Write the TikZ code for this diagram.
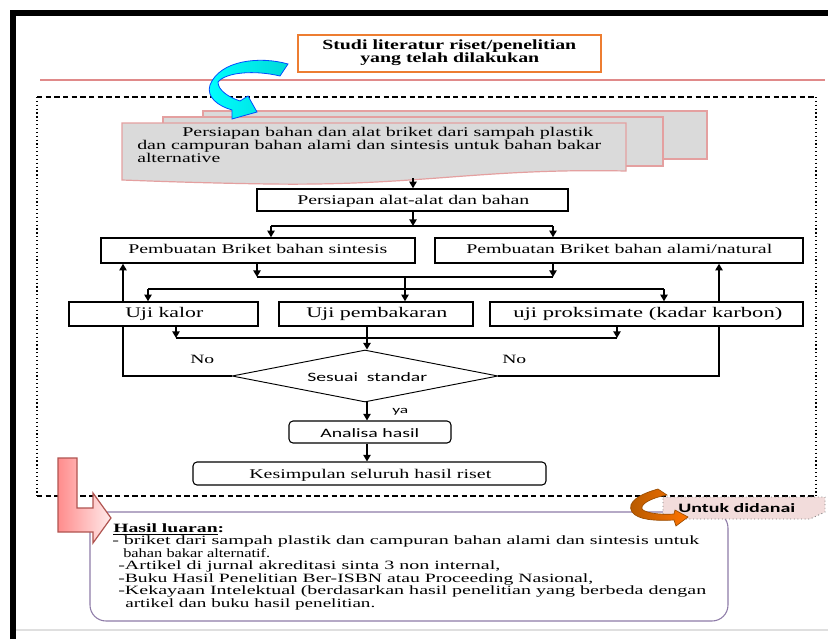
\documentclass[tikz,border=0pt]{standalone}
\usepackage{fontspec}
\setmainfont{Liberation Serif}
\newfontfamily\calfont{Carlito}
\usepackage{graphicx}
\usetikzlibrary{shapes.geometric,arrows.meta,fit}
\newlength\px \setlength\px{0.75pt}
\newcommand\tw[2]{\resizebox{#1\px}{\height}{#2}}
\definecolor{orgbox}{HTML}{ED7D31}
\definecolor{redline}{HTML}{E08A8A}
\definecolor{stkfill}{HTML}{DADADA}
\definecolor{stkdraw}{HTML}{E4A0A0}
\definecolor{hasilc}{HTML}{8E7CA8}
\definecolor{pinkfill}{HTML}{F2DCDB}
\definecolor{ldraw}{HTML}{B05450}
\begin{document}
\begin{tikzpicture}[x=0.75pt,y=-0.75pt,
  box/.style={draw=black, line width=1.1pt, inner sep=0, fill=white},
  conn/.style={draw=black, line width=1.1pt},
  arr/.style={conn, -{Triangle[width=5.5pt,length=5pt]}},
  t/.style={inner sep=0, anchor=base west},
  ser/.style={font=\fontsize{10}{11}\selectfont},
  serl/.style={font=\fontsize{11}{12}\selectfont},
  sers/.style={font=\fontsize{9.5}{10}\selectfont},
  cal/.style={font=\calfont\fontsize{9.6}{10}\selectfont},
  stk/.style={draw=stkdraw, line width=0.9pt, fill=stkfill}]
\useasboundingbox (0,0) rectangle (828,639);
\fill[white] (0,0) rectangle (828,639);
% outer frame
\draw[line width=3.8pt] (13,639) -- (13,13) -- (828,13);
\draw[gray!25, line width=0.8pt] (16,630) -- (828,630);
% red line
\draw[redline, line width=1.1pt] (40,80) -- (825,80);
% Studi box
\node[fit={(298,35) (601,72)}, draw=orgbox, line width=1.1pt, inner sep=0] (studi) {};
\node[t, font=\bfseries\fontsize{10.5}{11}\selectfont] (st1) at (322,49) {\tw{254}{Studi literatur riset/penelitian}};
\node[t, font=\bfseries\fontsize{10.5}{11}\selectfont] (st2) at (360,62.5) {\tw{179}{yang telah dilakukan}};
% dashed region
\draw[line width=0.8pt, dash pattern=on 4pt off 2.5pt] (37,97) -- (816,97);
\draw[line width=0.8pt, dash pattern=on 4pt off 2.5pt] (37,496) -- (816,496);
\draw[line width=0.9pt, dotted] (37,97) -- (37,496);
\draw[line width=0.9pt, dotted] (816,97) -- (816,496);
% stacked documents
\draw[stk] (203,111) rectangle (707,159);
\draw[stk] (163,117) rectangle (663,166);
\draw[stk] (122,123) -- (626,123) -- (626,171) .. controls (480,168) and (420,186) .. (270,184) .. controls (200,183) and (150,181) .. (122,180) -- cycle;
\coordinate (stackbot) at (413,178);
\node[t, ser] (p1) at (182,136.5) {\tw{411}{Persiapan bahan dan alat briket dari sampah plastik}};
\node[t, ser] (p2) at (137,149.5) {\tw{464}{dan campuran bahan alami dan sintesis untuk bahan bakar}};
\node[t, ser] (p3) at (137,162) {\tw{83}{alternative}};
% cyan arrow
\draw[draw=blue!70!cyan, line width=0.6pt, left color=cyan, right color=cyan!70!teal]
  (288,64) .. controls (260,56) and (220,60) .. (210,85) .. controls (206,97) and (218,106) .. (232,110)
  -- (232,119) -- (257,112) -- (248,96) -- (240,101)
  .. controls (228,97) and (218,90) .. (218,82) .. controls (226,72) and (255,70) .. (280,76) -- cycle;
% boxes
\node[box, fit={(257,189) (568,211)}] (prepalat) {};
\node[t, ser] (prepalatt) at (297,204) {\tw{232}{Persiapan alat-alat dan bahan}};
\node[box, fit={(101,238) (415,263)}] (sint) {};
\node[t, ser] (sintt) at (128,253) {\tw{259}{Pembuatan Briket bahan sintesis}};
\node[box, fit={(435,238) (803,263)}] (alami) {};
\node[t, ser] (alamit) at (466,253) {\tw{306}{Pembuatan Briket bahan alami/natural}};
% feedback corner points
\coordinate (fbl) at (123,376);
\coordinate (fbr) at (719,376);
\node[box, fit={(69,302) (258,326)}] (kalor) {};
\node[t, serl] (kalort) at (125,317.5) {\tw{78}{Uji kalor}};
\node[box, fit={(279,302) (473,326)}] (bakar) {};
\node[t, serl] (bakart) at (306,317.5) {\tw{141}{Uji pembakaran}};
\node[box, fit={(490,302) (803,326)}] (prok) {};
\node[t, serl] (prokt) at (513,317.5) {\tw{269}{uji proksimate (kadar karbon)}};
% diamond
\node[draw=black, line width=0.7pt, diamond, inner sep=0, minimum width=199.5pt, minimum height=39pt] (dec) at (365,376) {};
\node[t, cal] (dect) at (307,381) {\tw{120}{Sesuai\ \ standar}};
\node[t, font=\calfont\fontsize{8}{8}\selectfont] (ya) at (392,413) {\tw{16}{ya}};
\node[t, font=\fontsize{9.5}{9}\selectfont] (no1) at (190,363.5) {\tw{24}{No}};
\node[t, font=\fontsize{9.5}{9}\selectfont] (no2) at (502,363.5) {\tw{24}{No}};
% analisa / kesimpulan
\node[box, line width=0.8pt, rounded corners=3pt, fit={(289,421) (451,443)}] (analisa) {};
\node[t, cal] (analisat) at (320,437) {\tw{99}{Analisa hasil}};
\node[box, line width=0.8pt, rounded corners=3pt, fit={(193,462) (546,485)}] (kesim) {};
\node[t, ser] (kesimt) at (249,478) {\tw{242}{Kesimpulan seluruh hasil riset}};
% connectors
\draw[arr] (stackbot) -- (stackbot |- prepalat.north);
\coordinate (j1) at (413,226);
\coordinate (j1l) at (271,226);
\coordinate (j1r) at (553,226);
\draw[arr] (prepalat.south -| j1) -- (j1);
\draw[conn] (j1l) -- (j1r);
\draw[arr] (j1l) -- (j1l |- sint.north);
\draw[arr] (j1r) -- (j1r |- alami.north);
\coordinate (j2l) at (257,277);
\coordinate (j2r) at (553,277);
\draw[arr] (j2l |- sint.south) -- (j2l);
\draw[arr] (j2r |- alami.south) -- (j2r);
\draw[conn] (j2l) -- (j2r);
\coordinate (j2m) at (405,277);
\draw[arr] (j2m) -- (j2m |- bakar.north);
\coordinate (j3l) at (148,289);
\coordinate (j3r) at (664,289);
\draw[conn] (j3l) -- (j3r);
\draw[arr] (j3l) -- (j3l |- kalor.north);
\draw[arr] (j3r) -- (j3r |- prok.north);
\coordinate (j4l) at (176,338);
\coordinate (j4r) at (617,338);
\draw[arr] (j4l |- kalor.south) -- (j4l);
\draw[arr] (j4r |- prok.south) -- (j4r);
\draw[conn] (j4l) -- (j4r);
\coordinate (j4m) at (367,338);
\draw[arr] (j4m |- bakar.south) -- (j4m |- dec.north);
\draw[conn] (dec.west) -- (fbl) -- (fbl |- kalor.south);
\draw[arr] (fbl |- kalor.north) -- (fbl |- sint.south);
\draw[conn] (dec.east) -- (fbr) -- (fbr |- prok.south);
\draw[arr] (fbr |- prok.north) -- (fbr |- alami.south);
\draw[arr] (j4m |- dec.south) -- (j4m |- analisa.north);
\draw[arr] (j4m |- analisa.south) -- (j4m |- kesim.north);
% Hasil luaran box
\node[fit={(90,512) (728,621)}, draw=hasilc, line width=0.8pt, rounded corners=12pt, inner sep=0] (hasil) {};
\node[t, font=\bfseries\fontsize{9.5}{10}\selectfont] (h0) at (113,532) {\tw{111}{\underline{Hasil luaran}:}};
\node[t, sers] (h1) at (112,544.5) {\tw{587}{- briket dari sampah plastik dan campuran bahan alami dan sintesis untuk}};
\node[t, sers] (h2) at (123,557) {\tw{147}{bahan bakar alternatif.}};
\node[t, sers] (h3) at (118,569.5) {\tw{382}{-Artikel di jurnal akreditasi sinta 3 non internal,}};
\node[t, sers] (h4) at (118,582) {\tw{475}{-Buku Hasil Penelitian Ber-ISBN atau Proceeding Nasional,}};
\node[t, sers] (h5) at (118,594.5) {\tw{588}{-Kekayaan Intelektual (berdasarkan hasil penelitian yang berbeda dengan}};
\node[t, sers] (h6) at (125,607.5) {\tw{250}{artikel dan buku hasil penelitian.}};
% pink L arrow
\draw[ldraw, line width=0.9pt, left color=red!45!white, right color=red!8!white]
  (58,458) -- (77,458) -- (77,508) -- (93,508) -- (93,493) -- (111,518) -- (93,543) -- (93,532) -- (58,532) -- cycle;
% Untuk didanai
\draw[draw=gray, dotted, line width=0.7pt, fill=pinkfill] (663,497) -- (825,497) -- (825,512) -- (810,519) -- (663,519) -- cycle;
% orange arrow
\draw[draw=orange!60!black, line width=0.5pt, left color=orange!70!black, right color=orange!90!red]
  (658,489) .. controls (640,494) and (626,502) .. (632,512) .. controls (638,520) and (655,521) .. (674,520)
  -- (676,526) -- (688,517) -- (675,510) -- (674,514)
  .. controls (660,515) and (645,513) .. (642,509) .. controls (640,503) and (655,497) .. (667,495) -- cycle;
\node[t, font=\calfont\bfseries\fontsize{9.6}{10}\selectfont] (untuk) at (678,512) {\tw{117}{Untuk didanai}};
\end{tikzpicture}
\end{document}
